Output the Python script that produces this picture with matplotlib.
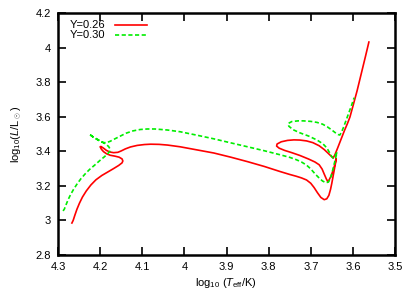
import matplotlib
matplotlib.use("Agg")
import matplotlib.pyplot as plt

plt.rcParams["font.family"] = ["Liberation Sans", "DejaVu Sans"]
plt.rcParams["mathtext.fontset"] = "custom"
plt.rcParams["mathtext.rm"] = "Liberation Sans"
plt.rcParams["mathtext.it"] = "Liberation Sans:italic"

# Y=0.26 track (log Teff, log L/Lsun)
teff_26 = [4.267, 4.264, 4.260, 4.255, 4.249, 4.242, 4.233, 4.222, 4.210, 4.196,
           4.182, 4.168, 4.156, 4.148, 4.146, 4.148, 4.155, 4.165, 4.176, 4.185,
           4.192, 4.197, 4.200, 4.198, 4.192, 4.185, 4.177, 4.168, 4.158, 4.150,
           4.140, 4.128, 4.112, 4.095, 4.080, 4.060, 4.040, 4.010, 3.970, 3.930,
           3.890, 3.850, 3.810, 3.773, 3.750, 3.735, 3.722, 3.710, 3.700, 3.692,
           3.684, 3.676, 3.668, 3.662, 3.657, 3.653, 3.650, 3.647, 3.644, 3.641,
           3.640, 3.642, 3.647, 3.652, 3.657, 3.659, 3.663, 3.668, 3.673, 3.680,
           3.690, 3.705, 3.726, 3.745, 3.762, 3.775, 3.781, 3.780, 3.770, 3.755,
           3.740, 3.726, 3.710, 3.695, 3.680, 3.668, 3.658, 3.650, 3.647, 3.643,
           3.636, 3.628, 3.620, 3.613, 3.607, 3.600, 3.590, 3.580, 3.570, 3.562]
logl_26 = [2.985, 3.000, 3.030, 3.065, 3.100, 3.135, 3.170, 3.205, 3.235, 3.260,
           3.280, 3.300, 3.318, 3.333, 3.344, 3.356, 3.366, 3.372, 3.377, 3.386,
           3.398, 3.412, 3.426, 3.428, 3.418, 3.405, 3.396, 3.392, 3.394, 3.402,
           3.414, 3.425, 3.434, 3.439, 3.441, 3.440, 3.436, 3.426, 3.408, 3.390,
           3.366, 3.340, 3.312, 3.283, 3.266, 3.256, 3.246, 3.234, 3.215, 3.190,
           3.160, 3.133, 3.120, 3.125, 3.145, 3.180, 3.215, 3.255, 3.295, 3.335,
           3.358, 3.330, 3.290, 3.255, 3.232, 3.223, 3.240, 3.268, 3.297, 3.322,
           3.338, 3.355, 3.376, 3.392, 3.405, 3.418, 3.430, 3.442, 3.455, 3.463,
           3.466, 3.465, 3.460, 3.450, 3.432, 3.410, 3.387, 3.368, 3.361, 3.378,
           3.420, 3.470, 3.520, 3.560, 3.598, 3.660, 3.750, 3.850, 3.950, 4.032]

# Y=0.30 track
teff_30 = [4.288, 4.285, 4.281, 4.276, 4.270, 4.263, 4.255, 4.246, 4.236, 4.225,
           4.212, 4.200, 4.190, 4.182, 4.177, 4.176, 4.180, 4.188, 4.198, 4.210,
           4.220, 4.226, 4.216, 4.207, 4.199, 4.192, 4.185, 4.176, 4.165, 4.152,
           4.138, 4.122, 4.105, 4.088, 4.070, 4.040, 4.010, 3.970, 3.930, 3.892,
           3.850, 3.810, 3.773, 3.750, 3.735, 3.722, 3.710, 3.700, 3.690, 3.680,
           3.672, 3.664, 3.658, 3.654, 3.650, 3.646, 3.642, 3.639, 3.637, 3.641,
           3.645, 3.647, 3.651, 3.656, 3.662, 3.671, 3.685, 3.705, 3.726, 3.742,
           3.752, 3.754, 3.745, 3.730, 3.718, 3.700, 3.685, 3.672, 3.661, 3.651,
           3.642, 3.635, 3.631, 3.627, 3.622, 3.616, 3.610, 3.604, 3.597]
logl_30 = [3.055, 3.065, 3.090, 3.120, 3.150, 3.180, 3.210, 3.240, 3.268, 3.295,
           3.322, 3.348, 3.368, 3.386, 3.400, 3.412, 3.428, 3.444, 3.458, 3.474,
           3.488, 3.500, 3.482, 3.468, 3.457, 3.450, 3.450, 3.458, 3.472, 3.488,
           3.505, 3.518, 3.526, 3.529, 3.529, 3.523, 3.513, 3.493, 3.472, 3.450,
           3.426, 3.403, 3.380, 3.365, 3.352, 3.338, 3.320, 3.298, 3.270, 3.245,
           3.228, 3.218, 3.222, 3.240, 3.270, 3.310, 3.350, 3.380, 3.395, 3.380,
           3.367, 3.361, 3.372, 3.395, 3.420, 3.443, 3.465, 3.488, 3.507, 3.525,
           3.545, 3.560, 3.572, 3.576, 3.576, 3.573, 3.567, 3.557, 3.542, 3.525,
           3.508, 3.497, 3.494, 3.510, 3.540, 3.580, 3.620, 3.660, 3.710]

xticks = [4.3, 4.2, 4.1, 4.0, 3.9, 3.8, 3.7, 3.6, 3.5]
xtick_labels = ["4.3", "4.2", "4.1", "4", "3.9", "3.8", "3.7", "3.6", "3.5"]
yticks = [2.8, 3.0, 3.2, 3.4, 3.6, 3.8, 4.0, 4.2]
ytick_labels = ["2.8", "3", "3.2", "3.4", "3.6", "3.8", "4", "4.2"]

fig = plt.figure(figsize=(4.15, 2.9), dpi=100)
ax = fig.add_axes([58 / 415, 1 - 255 / 290, 337 / 415, 242 / 290])

ax.plot(teff_26, logl_26, color="#ff0000", lw=1.2, label="Y=0.26",
        solid_joinstyle="round")
ax.plot(teff_30, logl_30, color="#00ee00", lw=1.2, dashes=(2.5, 1.5),
        label="Y=0.30")

ax.set_xlim(4.3, 3.5)
ax.set_ylim(2.8, 4.2)
ax.set_xticks(xticks)
ax.set_xticklabels(xtick_labels)
ax.set_yticks(yticks)
ax.set_yticklabels(ytick_labels)
ax.tick_params(which="major", direction="in", top=True, right=True,
               bottom=True, left=True, labelsize=8,
               length=6, width=1.2, color="black", pad=5)
for s in ax.spines.values():
    s.set_linewidth(1.8)

ax.set_xlabel(r"log$_{10}$ ($T_{\rm eff}$/K)", fontsize=8, labelpad=3)
ax.set_ylabel(r"log$_{10}$($L$/L$_\odot$)", fontsize=8, labelpad=8)

leg = ax.legend(loc="upper left", frameon=False, fontsize=8, markerfirst=False,
                handlelength=2.85, handletextpad=0.9, labelspacing=0.0,
                borderaxespad=0.1, bbox_to_anchor=(0.018, 0.992))

fig.savefig("out.png", dpi=100)
